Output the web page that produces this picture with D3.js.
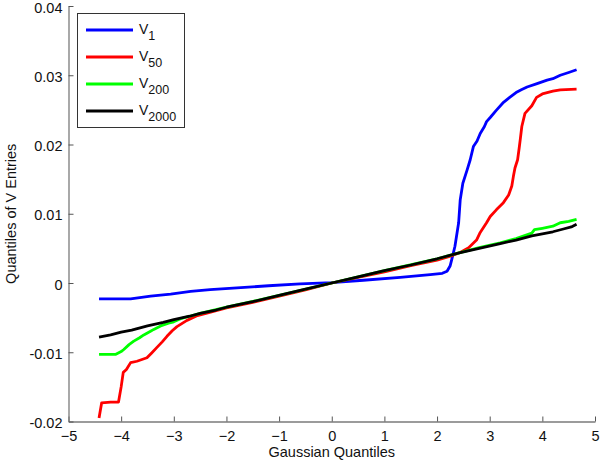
<!DOCTYPE html>
<html>
<head>
<meta charset="utf-8">
<script src="https://cdn.jsdelivr.net/npm/d3@7"></script>
<style>
  body { margin: 0; background: #fff; }
  svg { display: block; font-family: "Liberation Sans", Arial, Helvetica, sans-serif; }
</style>
</head>
<body>
<div id="chartplace"></div>
<script>
// quantile curves, [gaussian quantile, quantile of V entries]
var v1 = [[-4.42,-0.0023],[-3.82,-0.0023],[-3.44,-0.0019],[-3.06,-0.0016],[-2.68,-0.0012],[-2.31,-0.00097],
  [-1.8,-0.0007],[-1.2,-0.0004],[-0.6,-0.00012],[0,0.00005],[0.6,0.0004],[1.3,0.0008],[1.87,0.0012],
  [2.1,0.0014],[2.19,0.0017],[2.25,0.0025],[2.28,0.0034],[2.34,0.0053],[2.41,0.0087],[2.44,0.012],
  [2.49,0.0144],[2.57,0.0163],[2.63,0.0178],[2.69,0.0197],[2.76,0.0205],[2.82,0.0216],[2.9,0.0226],[2.94,0.0233],
  [3.01,0.0239],[3.12,0.0249],[3.25,0.026],[3.38,0.0268],[3.5,0.0275],[3.6,0.0279],[3.71,0.0283],[3.9,0.0288],
  [4.09,0.0293],[4.2,0.0295],[4.34,0.0300],[4.5,0.0304],[4.65,0.0308]];
var v50 = [[-4.42,-0.0195],[-4.37,-0.0173],[-4.2,-0.0172],[-4.05,-0.0172],[-4.0,-0.0150],[-3.96,-0.0129],
  [-3.9,-0.0125],[-3.82,-0.0115],[-3.7,-0.0113],[-3.51,-0.0108],[-3.42,-0.0101],[-3.32,-0.0093],
  [-3.22,-0.0085],[-3.13,-0.0077],[-3.03,-0.0069],[-2.94,-0.0063],[-2.75,-0.0054],[-2.55,-0.0047],
  [-2.3,-0.0042],[-2.0,-0.0036],[-1.5,-0.0028],[-1.0,-0.0019],[-0.5,-0.0010],[0,0],[0.5,0.0008],
  [1.0,0.0016],[1.5,0.0025],[2.0,0.0033],[2.3,0.0040],[2.44,0.0044],[2.6,0.0051],[2.75,0.0062],
  [2.82,0.0073],[2.94,0.0087],[3.01,0.0096],[3.13,0.0106],[3.26,0.0116],[3.36,0.0127],[3.42,0.0140],
  [3.45,0.0154],[3.48,0.0166],[3.53,0.0178],[3.56,0.0195],[3.58,0.0207],[3.61,0.0226],[3.67,0.0245],
  [3.8,0.0256],[3.89,0.0268],[4.0,0.0273],[4.2,0.0277],[4.34,0.0279],[4.65,0.0280]];
var v200 = [[-4.42,-0.0103],[-4.1,-0.0103],[-4.0,-0.0099],[-3.95,-0.0096],[-3.85,-0.0089],[-3.76,-0.0084],
  [-3.65,-0.0079],[-3.57,-0.0075],[-3.45,-0.0070],[-3.38,-0.0067],[-3.25,-0.0062],[-3.1,-0.0058],
  [-3.0,-0.0056],[-2.85,-0.0051],[-2.7,-0.0048],[-2.5,-0.0044],[-2.0,-0.0035],[-1.0,-0.0018],[0,0],
  [1.0,0.0018],[2.0,0.0035],[2.4,0.0043],[2.8,0.0051],[3.2,0.0058],[3.5,0.0064],[3.8,0.0072],
  [3.85,0.0077],[4.0,0.0079],[4.2,0.0082],[4.34,0.0087],[4.5,0.0089],[4.65,0.0092]];
var v2000 = [[-4.42,-0.0078],[-4.2,-0.0075],[-4.0,-0.0071],[-3.8,-0.0068],[-3.5,-0.0062],[-3.2,-0.0057],
  [-3.0,-0.0053],[-2.7,-0.0048],[-2.5,-0.0044],[-2.2,-0.0039],[-2.0,-0.0035],[-1.5,-0.0027],[-1.0,-0.0018],
  [-0.5,-0.0009],[0,0],[0.5,0.0009],[1.0,0.0018],[1.5,0.0026],[2.0,0.0035],[2.4,0.0043],[2.8,0.0050],
  [3.2,0.0057],[3.5,0.0062],[3.8,0.0068],[4.0,0.0071],[4.2,0.0074],[4.4,0.0078],[4.55,0.0081],[4.65,0.0085]];

var seriesNames = ["1", "50", "200", "2000"];
var seriesColors = ["#0000ff", "#ff0000", "#00ff00", "#000000"];
var seriesData = [v1, v50, v200, v2000];

var xTicks = [-5, -4, -3, -2, -1, 0, 1, 2, 3, 4, 5];
var yTicks = [-0.02, -0.01, 0, 0.01, 0.02, 0.03, 0.04];

var width = 600, height = 462;
var margin = {top: 6, right: 5, bottom: 40.5, left: 68.5};

var svg = d3.select("#chartplace").append("svg")
  .attr("width", width)
  .attr("height", height);

var x = d3.scaleLinear().domain([-5, 5]).range([margin.left, width - margin.right]);
var y = d3.scaleLinear().domain([-0.02, 0.04]).range([height - margin.bottom, margin.top]);

// axes, ticks pointing inward like matlab
var xAxis = svg.append("g")
  .attr("transform", "translate(0," + (height - margin.bottom) + ")")
  .call(d3.axisBottom(x).tickValues(xTicks).tickSize(-5).tickSizeOuter(0).tickPadding(9));
var yAxis = svg.append("g")
  .attr("transform", "translate(" + margin.left + ",0)")
  .call(d3.axisLeft(y).tickValues(yTicks).tickSize(-5).tickSizeOuter(0).tickPadding(6)
    .tickFormat(function(d){ return Math.abs(d) < 1e-9 ? "0" : d.toFixed(2); }));

[xAxis, yAxis].forEach(function(a){
  a.select(".domain").attr("stroke", "#7a7a7a").attr("stroke-width", 1.3);
  a.selectAll(".tick line").attr("stroke", "#555");
  a.selectAll(".tick text").attr("fill", "#111").style("font-size", "14.5px")
    .style("font-family", "'Liberation Sans', Arial, sans-serif");
});
// matlab puts the y labels a touch lower than the tick
yAxis.selectAll(".tick text").attr("dy", "0.42em");

// curves
var line = d3.line()
  .x(function(d){ return x(d[0]); })
  .y(function(d){ return y(d[1]); });

seriesData.forEach(function(s, i){
  svg.append("path")
    .attr("d", line(s))
    .attr("stroke", seriesColors[i])
    .attr("stroke-width", 2.8)
    .attr("stroke-linejoin", "round")
    .attr("fill", "none");
});

// axis titles
svg.append("text")
  .attr("x", (x(-5) + x(5)) / 2)
  .attr("y", 457)
  .attr("text-anchor", "middle")
  .style("font-size", "14.5px")
  .attr("fill", "#111")
  .text("Gaussian Quantiles");
svg.append("text")
  .attr("transform", "translate(16," + ((y(-0.02) + y(0.04)) / 2) + ") rotate(-90)")
  .attr("text-anchor", "middle")
  .style("font-size", "14.5px")
  .attr("fill", "#111")
  .text("Quantiles of V Entries");

// legend
var legend = svg.append("g");
legend.append("rect")
  .attr("x", 77.5).attr("y", 13.5)
  .attr("width", 107).attr("height", 114)
  .attr("fill", "#fff")
  .attr("stroke", "#333")
  .attr("stroke-width", 1);
seriesNames.forEach(function(n, i){
  var ly = 30 + i * 27;
  legend.append("line")
    .attr("x1", 86).attr("x2", 133)
    .attr("y1", ly).attr("y2", ly)
    .attr("stroke", seriesColors[i])
    .attr("stroke-width", 2.8);
  var t = legend.append("text")
    .attr("x", 139).attr("y", ly + 4)
    .style("font-size", "14px")
    .attr("fill", "#111");
  t.append("tspan").text("V");
  t.append("tspan").attr("dy", 6).style("font-size", "12.5px").text(n);
});
</script>
</body>
</html>
